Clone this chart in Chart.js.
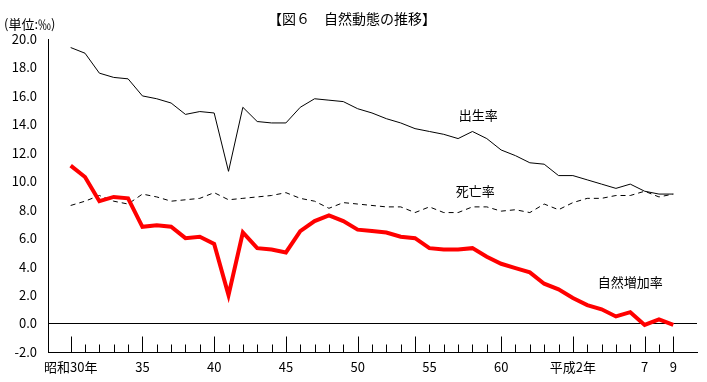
<!DOCTYPE html>
<html>
<head>
<meta charset="utf-8">
<script src="https://cdn.jsdelivr.net/npm/chart.js@4.4.1/dist/chart.umd.min.js"></script>
<style>
  html, body { margin: 0; padding: 0; background: #fff; }
</style>
</head>
<body>
<canvas id="c" width="707" height="382"></canvas>
<script>
// Years on the Showa calendar (30 = 1955, 64 = 1989, 65 = Heisei 2 ...)
const years = [30, 31, 32, 33, 34, 35, 36, 37, 38, 39, 40, 41, 42, 43, 44, 45, 46, 47, 48, 49, 50,
               51, 52, 53, 54, 55, 56, 57, 58, 59, 60, 61, 62, 63, 64, 65, 66, 67, 68, 69, 70, 71, 72];
const birthRate = [19.4, 19.0, 17.6, 17.3, 17.2, 16.0, 15.8, 15.5, 14.7, 14.9, 14.8, 10.7, 15.2, 14.2, 14.1,
                   14.1, 15.2, 15.8, 15.7, 15.6, 15.1, 14.8, 14.4, 14.1, 13.7, 13.5, 13.3, 13.0, 13.5, 13.0,
                   12.2, 11.8, 11.3, 11.2, 10.4, 10.4, 10.1, 9.8, 9.5, 9.8, 9.3, 9.1, 9.1];
const deathRate = [8.3, 8.6, 9.0, 8.6, 8.4, 9.1, 8.9, 8.6, 8.7, 8.8, 9.2, 8.7, 8.8, 8.9, 9.0,
                   9.2, 8.8, 8.6, 8.1, 8.5, 8.4, 8.3, 8.2, 8.2, 7.8, 8.2, 7.8, 7.8, 8.2, 8.2,
                   7.9, 8.0, 7.8, 8.4, 8.0, 8.5, 8.8, 8.8, 9.0, 9.0, 9.3, 8.9, 9.1];
const naturalRate = [11.1, 10.3, 8.6, 8.9, 8.8, 6.8, 6.9, 6.8, 6.0, 6.1, 5.6, 2.0, 6.4, 5.3, 5.2,
                     5.0, 6.5, 7.2, 7.6, 7.2, 6.6, 6.5, 6.4, 6.1, 6.0, 5.3, 5.2, 5.2, 5.3, 4.7,
                     4.2, 3.9, 3.6, 2.8, 2.4, 1.8, 1.3, 1.0, 0.5, 0.8, -0.1, 0.3, -0.1];

// x tick labels (year -> text) and which ticks are drawn long
const tickLabels = { 30: '昭和30年', 35: '35', 40: '40', 45: '45', 50: '50', 55: '55', 60: '60', 65: '平成2年', 70: '7', 72: '9' };
const majorTicks = [30, 35, 40, 45, 50, 54, 60, 65, 70, 72];

// series name labels, placed in data coordinates
const seriesNames = [
    { text: '出生率', year: 58.4, value: 14.65 },
    { text: '死亡率', year: 58.2, value: 9.3 },
    { text: '自然増加率', year: 69.0, value: 2.9 },
];

const FONT = '"Noto Sans CJK JP", sans-serif';
Chart.defaults.font.family = FONT;
Chart.defaults.font.size = 13;
Chart.defaults.color = '#000';

const toPoints = vals => vals.map((v, i) => ({ x: years[i], y: v }));

// Upward tick marks, titles and series names
const decor = {
    id: 'decor',
    afterDraw(chart) {
        const { ctx, scales: { x, y } } = chart;
        ctx.save();
        ctx.strokeStyle = '#000';
        ctx.lineWidth = 1;
        const base = Math.round(y.getPixelForValue(-2)) + 0.5;
        years.forEach(yr => {
            const px = Math.round(x.getPixelForValue(yr)) + 0.5;
            const len = majorTicks.includes(yr) ? 16 : 8;
            ctx.beginPath();
            ctx.moveTo(px, base);
            ctx.lineTo(px, base - len);
            ctx.stroke();
        });

        ctx.fillStyle = '#000';
        ctx.textBaseline = 'middle';
        ctx.textAlign = 'center';
        ctx.font = '14px ' + FONT;
        ctx.fillText('【図６　自然動態の推移】', 352, 19);

        ctx.textAlign = 'left';
        ctx.font = '13px ' + FONT;
        ctx.fillText('(単位:‰)', 4, 24);

        ctx.textAlign = 'center';
        seriesNames.forEach(s => {
            ctx.fillText(s.text, x.getPixelForValue(s.year), y.getPixelForValue(s.value));
        });
        ctx.restore();
    }
};

new Chart(document.getElementById('c').getContext('2d'), {
    type: 'line',
    data: {
        datasets: [
            { label: '自然増加率', data: toPoints(naturalRate), borderColor: '#ff0000', borderWidth: 4,
              pointRadius: 0, tension: 0, fill: false },
            { label: '出生率', data: toPoints(birthRate), borderColor: '#000', borderWidth: 1,
              pointRadius: 0, tension: 0, fill: false },
            { label: '死亡率', data: toPoints(deathRate), borderColor: '#000', borderWidth: 1,
              borderDash: [5, 4], pointRadius: 0, tension: 0, fill: false },
        ]
    },
    options: {
        responsive: false,
        animation: false,
        devicePixelRatio: 1,
        layout: { padding: { top: 39, right: 10, left: 0, bottom: 0 } },
        plugins: { legend: { display: false }, tooltip: { enabled: false }, title: { display: false } },
        scales: {
            x: {
                type: 'linear',
                min: 28.42,
                max: 73.65,
                afterBuildTicks: scale => { scale.ticks = years.map(v => ({ value: v })); },
                afterFit: scale => { scale.height = 30; },
                grid: { display: false, drawTicks: false },
                border: { display: true, color: '#000', width: 1 },
                ticks: {
                    autoSkip: false, maxRotation: 0, padding: 7,
                    font: { size: 13 },
                    callback: v => tickLabels[v] || ''
                }
            },
            y: {
                min: -2,
                max: 20,
                afterFit: scale => { scale.width = 48; },
                grid: {
                    drawTicks: false,
                    color: c => (c.tick && c.tick.value === 0) ? '#000' : 'rgba(0,0,0,0)',
                    lineWidth: 1
                },
                border: { display: true, color: '#000', width: 1 },
                ticks: {
                    stepSize: 2, padding: 11,
                    font: { size: 13 },
                    callback: v => Number(v).toFixed(1)
                }
            }
        }
    },
    plugins: [decor]
});
</script>
</body>
</html>
